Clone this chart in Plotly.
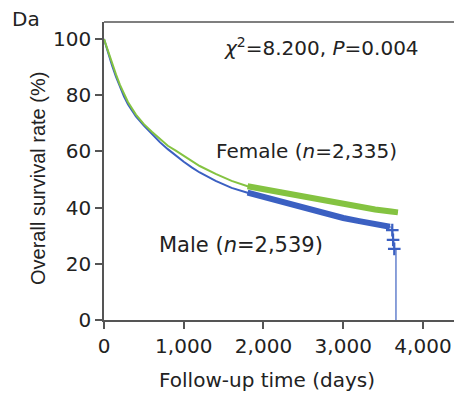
import plotly.graph_objects as go

# ---- data ----
male_days = [0, 50, 100, 150, 200, 250, 300, 400, 500, 600, 700, 800, 900, 1000,
             1100, 1200, 1400, 1600, 1800, 2000, 2200, 2400, 2600, 2800, 3000,
             3200, 3400, 3586]
male_surv = [100, 95.2, 90.7, 86.6, 82.9, 79.6, 76.8, 72.5, 69.2, 66.1, 63.3, 60.8, 58.4, 56.3,
             54.3, 52.5, 49.5, 47, 45.3, 43.8, 42.1, 40.5, 39, 37.5, 36.3,
             35.2, 34.2, 33.2]
male_tail_days = [3586, 3600, 3615, 3625, 3640, 3661, 3661]
male_tail_surv = [33.2, 33.0, 32.0, 28.5, 25.3, 25.3, 0]
male_censor_days = [3615, 3625, 3640]
male_censor_surv = [32.0, 28.5, 25.3]

female_days = [0, 50, 100, 150, 200, 250, 300, 400, 500, 600, 700, 800, 900, 1000,
               1100, 1200, 1400, 1600, 1800, 2000, 2200, 2400, 2600, 2800, 3000,
               3200, 3400, 3600, 3686]
female_surv = [100, 95.7, 91.4, 87.4, 83.7, 80.4, 77.6, 73.1, 69.7, 67, 64.5, 62, 60.3, 58.5,
               56.5, 54.8, 52, 49.5, 47.6, 46.5, 45.6, 44.6, 43.4, 42.2, 41.1,
               40.1, 39.3, 38.6, 38.3]

dense_censor_from = 1800  # days after which censor marks merge into a thick band

x_tickvals = [0, 1000, 2000, 3000, 4000]
x_ticktext = ["0", "1,000", "2,000", "3,000", "4,000"]
y_tickvals = [0, 20, 40, 60, 80, 100]
y_ticktext = ["0", "20", "40", "60", "80", "100"]

GREEN = "#84c341"
BLUE = "#3b60c2"
TAIL_BLUE = "#7f97d6"
TXT = "#222222"
AX = "#555555"
FONT = "DejaVu Sans"

def after(days, vals, start):
    pts = [(d, v) for d, v in zip(days, vals) if d >= start]
    return [p[0] for p in pts], [p[1] for p in pts]

fig = go.Figure()

# thin curves
fig.add_trace(go.Scatter(x=male_tail_days, y=male_tail_surv, mode="lines",
                         line=dict(color=TAIL_BLUE, width=1.8), hoverinfo="skip"))
fig.add_trace(go.Scatter(x=male_days, y=male_surv, mode="lines",
                         line=dict(color=BLUE, width=2), hoverinfo="skip"))
fig.add_trace(go.Scatter(x=female_days, y=female_surv, mode="lines",
                         line=dict(color=GREEN, width=2), hoverinfo="skip"))

# dense censor bands
mx, my = after(male_days, male_surv, dense_censor_from)
fx, fy = after(female_days, female_surv, dense_censor_from)
fig.add_trace(go.Scatter(x=mx, y=my, mode="lines",
                         line=dict(color=BLUE, width=6), hoverinfo="skip"))
fig.add_trace(go.Scatter(x=fx, y=fy, mode="lines",
                         line=dict(color=GREEN, width=6), hoverinfo="skip"))

# sparse censor marks at the male tail
fig.add_trace(go.Scatter(x=male_censor_days, y=male_censor_surv, mode="markers",
                         marker=dict(symbol="cross-thin", size=9,
                                     line=dict(color=BLUE, width=2.2)),
                         hoverinfo="skip"))

fig.update_layout(
    width=454, height=395,
    margin=dict(l=104, r=0, t=22, b=75),
    paper_bgcolor="white", plot_bgcolor="white",
    showlegend=False,
    font=dict(family=FONT, size=20, color=TXT),
    xaxis=dict(range=[0, 4389], tickvals=x_tickvals, ticktext=x_ticktext,
               showgrid=False, zeroline=False, showline=True, linecolor=AX,
               linewidth=1.5, ticks="outside", ticklen=7, tickwidth=1.5,
               tickcolor=AX, tickfont=dict(family=FONT, size=20, color=TXT)),
    yaxis=dict(range=[0, 106.05], tickvals=y_tickvals, ticktext=y_ticktext,
               showgrid=False, zeroline=False, showline=True, linecolor=AX,
               linewidth=1.5, ticks="outside", ticklen=7, tickwidth=1.5,
               tickcolor=AX, tickfont=dict(family=FONT, size=20, color=TXT)),
    shapes=[dict(type="line", xref="paper", yref="paper", x0=0, x1=1, y0=1, y1=1,
                 line=dict(color=AX, width=1.5))],
    annotations=[
        dict(text="<i>χ</i><sup>2</sup>=8.200, <i>P</i>=0.004", x=2727, y=97.2,
             xref="x", yref="y", showarrow=False, xanchor="center", yanchor="middle",
             font=dict(family=FONT, size=20, color=TXT)),
        dict(text="Female (<i>n</i>=2,335)", x=2539, y=60.1, xref="x", yref="y",
             showarrow=False, xanchor="center", yanchor="middle",
             font=dict(family=FONT, size=20, color=TXT)),
        dict(text="Male (<i>n</i>=2,539)", x=1724, y=26.7, xref="x", yref="y",
             showarrow=False, xanchor="center", yanchor="middle",
             font=dict(family=FONT, size=21, color=TXT)),
        dict(text="Da", x=-0.2229, y=1.010, xref="paper", yref="paper",
             showarrow=False, xanchor="center", yanchor="middle",
             font=dict(family=FONT, size=20, color=TXT)),
        dict(text="Overall survival rate (%)", x=-0.1886, y=0.4765, xref="paper",
             yref="paper", showarrow=False, textangle=-90, xanchor="center",
             yanchor="middle", font=dict(family="Liberation Sans", size=20, color=TXT)),
        dict(text="Follow-up time (days)", x=0.467, y=-0.1997, xref="paper",
             yref="paper", showarrow=False, xanchor="center", yanchor="middle",
             font=dict(family=FONT, size=20, color=TXT)),
    ],
)

fig.write_html("out.html", config={"displayModeBar": False},
               post_script="document.body.style.margin='0px';")
